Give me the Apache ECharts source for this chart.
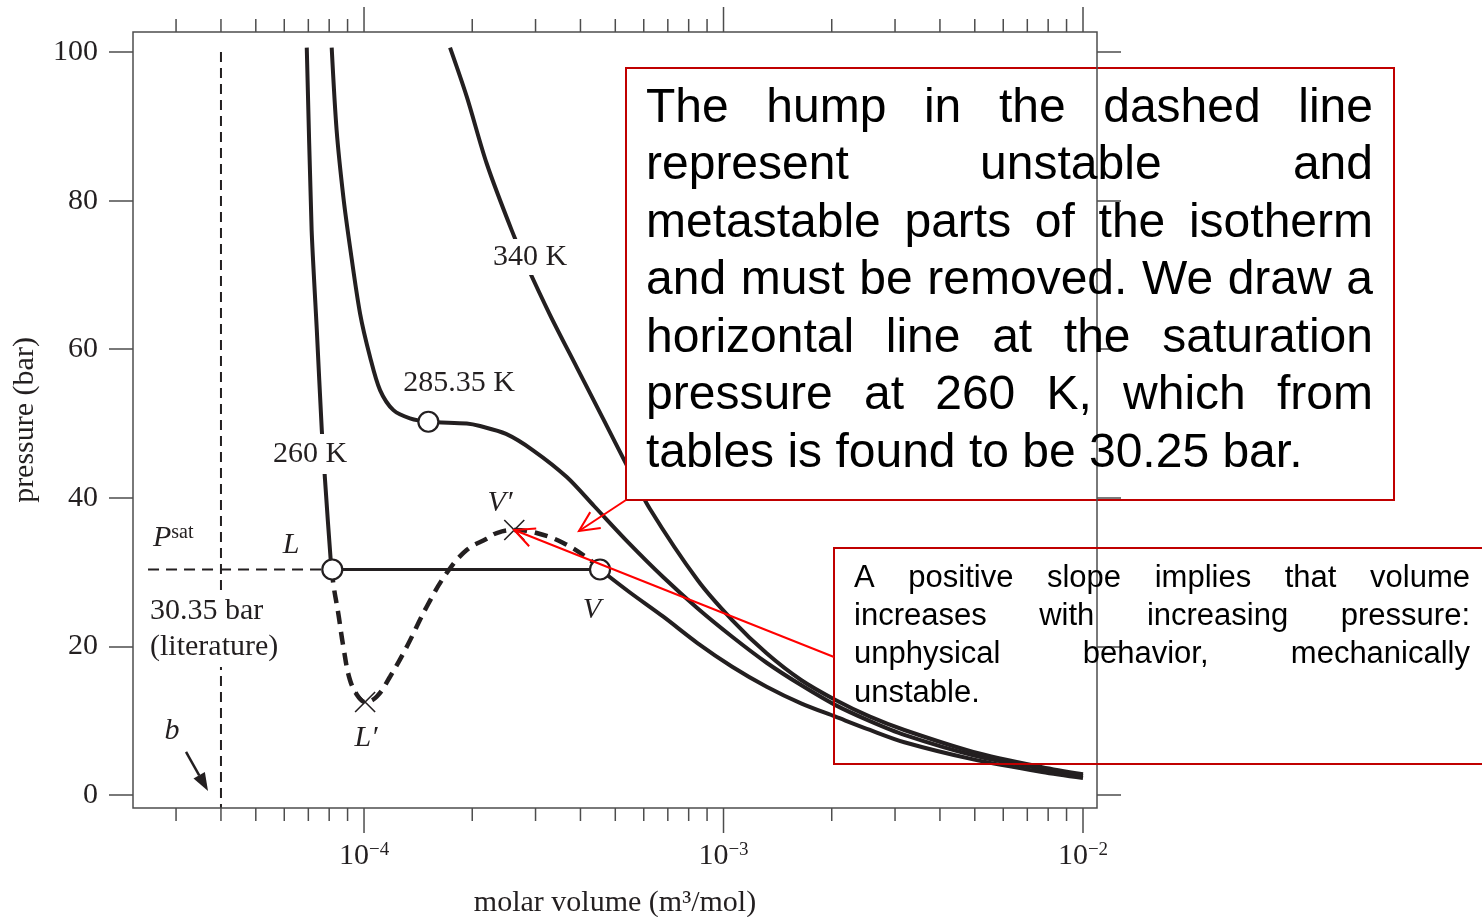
<!DOCTYPE html>
<html>
<head>
<meta charset="utf-8">
<script src="https://cdn.jsdelivr.net/npm/echarts@6/dist/echarts.min.js"></script>
<style>
  html, body { margin: 0; padding: 0; background: #fff; }
  #chart { width: 1482px; height: 917px; }
</style>
</head>
<body>
<div id="chart"></div>
<script>
// Isotherms as [molar volume (m^3/mol), pressure (bar)]
const iso260Liquid = [
  [6.93e-5, 100.6], [7.15e-5, 76.0], [7.39e-5, 62.6], [7.63e-5, 49.1],
  [7.79e-5, 42.4], [8.09e-5, 31.2], [8.16e-5, 30.35]
];
const iso260Unstable = [
  [8.16e-5, 30.35], [8.21e-5, 28.5], [8.48e-5, 24.45], [8.76e-5, 19.96],
  [9.14e-5, 15.48], [9.64e-5, 13.23], [1.007e-4, 12.52], [1.084e-4, 13.23],
  [1.181e-4, 15.92], [1.315e-4, 19.96], [1.494e-4, 25.34], [1.698e-4, 29.88],
  [1.930e-4, 32.97], [2.194e-4, 34.5], [2.339e-4, 35.26], [2.618e-4, 35.67],
  [3.022e-4, 35.26], [3.584e-4, 33.92], [4.252e-4, 31.63], [4.534e-4, 30.35]
];
const iso260Vapor = [
  [4.534e-4, 30.35], [5.456e-4, 27.36], [6.80e-4, 24.0], [8.48e-4, 20.42],
  [1.057e-3, 17.27], [1.318e-3, 14.58], [1.643e-3, 12.34], [2.049e-3, 10.54],
  [2.555e-3, 8.75], [3.184e-3, 7.1], [4.95e-3, 4.8], [7.694e-3, 3.1], [1.0e-2, 2.3]
];
const iso285 = [
  [8.13e-5, 100.6], [8.39e-5, 89.5], [8.76e-5, 80.5], [9.14e-5, 73.8],
  [9.75e-5, 64.8], [1.039e-4, 59.0], [1.108e-4, 54.5], [1.207e-4, 51.8],
  [1.342e-4, 50.7], [1.51e-4, 50.24], [1.931e-4, 50.0], [2.102e-4, 49.66],
  [2.483e-4, 48.6], [2.952e-4, 46.4], [3.664e-4, 42.8], [4.364e-4, 38.9],
  [5.456e-4, 33.9], [6.802e-4, 29.3], [8.478e-4, 25.1], [1.057e-3, 21.3],
  [1.318e-3, 17.8], [1.643e-3, 14.8], [2.049e-3, 12.1], [2.555e-3, 9.95],
  [3.184e-3, 8.1], [4.95e-3, 5.35], [7.694e-3, 3.5], [1.0e-2, 2.55]
];
const iso340 = [
  [1.735e-4, 100.6], [1.931e-4, 94.0], [2.194e-4, 85.0], [2.576e-4, 76.0],
  [2.835e-4, 71.3], [3.293e-4, 64.6], [3.904e-4, 57.6], [4.631e-4, 50.6],
  [5.380e-4, 44.4], [6.225e-4, 38.6], [8.478e-4, 28.9], [1.057e-3, 23.55],
  [1.318e-3, 19.07], [1.643e-3, 15.48], [2.049e-3, 12.79], [2.555e-3, 10.54],
  [3.184e-3, 8.75], [4.95e-3, 5.8], [7.694e-3, 3.75], [1.0e-2, 2.8]
];

// Saturation line, co-volume and marked states
const psatLiterature = 30.35;
const covolumeB = 4e-5;
const psatLineStart = 2.507e-5;
const pointL = [8.16e-5, 30.35];
const pointV = [4.534e-4, 30.35];
const criticalPoint = [1.51e-4, 50.24];
const spinodalL = [1.007e-4, 12.52];
const spinodalV = [2.618e-4, 35.67];

// Axis ticks
const xMajorTicks = [1e-4, 1e-3, 1e-2];
const xMajorExponents = ['\u22124', '\u22123', '\u22122'];
const xMinorTicks = [
  3e-5, 4e-5, 5e-5, 6e-5, 7e-5, 8e-5, 9e-5,
  2e-4, 3e-4, 4e-4, 5e-4, 6e-4, 7e-4, 8e-4, 9e-4,
  2e-3, 3e-3, 4e-3, 5e-3, 6e-3, 7e-3, 8e-3, 9e-3
];
const yTicks = [0, 20, 40, 60, 80, 100];

const xMin = 2.277e-5, xMax = 1.0938e-2;
const yMin = -1.75, yMax = 102.7;

const SERIF = '"Liberation Serif", "Times New Roman", serif';
const SANS = '"Liberation Sans", Arial, sans-serif';
const INK = '#231f20';
const AXIS = '#4d4d4d';
const BOX_RED = '#c00000';
const ARROW_RED = '#ff0000';

const tickData = xMajorTicks.map((v, i) => [v, 1, i]).concat(xMinorTicks.map(v => [v, 0, -1]));

function curve(name, data, width, extra) {
  return Object.assign({
    type: 'line', name, data, symbol: 'none', showSymbol: false,
    smooth: 0.3, silent: true, z: 2,
    lineStyle: { color: INK, width: width, cap: 'butt' }
  }, extra || {});
}

const chart = echarts.init(document.getElementById('chart'), null, { renderer: 'canvas' });

chart.setOption({
  animation: false,
  backgroundColor: '#ffffff',
  grid: { left: 133, top: 32, right: 385, bottom: 109, containLabel: false, outerBoundsMode: 'none' },
  xAxis: {
    type: 'log', logBase: 10, min: xMin, max: xMax,
    axisLine: { show: false }, axisTick: { show: false }, axisLabel: { show: false },
    splitLine: { show: false },
    name: 'molar volume (m\u00b3/mol)', nameLocation: 'middle', nameGap: 80,
    nameTextStyle: { fontFamily: SERIF, fontSize: 30, color: INK }
  },
  yAxis: [{
    type: 'value', min: yMin, max: yMax, position: 'left',
    axisLine: { show: false },
    axisTick: { show: true, customValues: yTicks, length: 24, lineStyle: { color: AXIS, width: 1.5 } },
    axisLabel: { customValues: yTicks, margin: 35, fontFamily: SERIF, fontSize: 30, color: INK },
    splitLine: { show: false },
    name: 'pressure (bar)', nameLocation: 'middle', nameGap: 93,
    nameTextStyle: { fontFamily: SERIF, fontSize: 30, color: INK }
  }, {
    type: 'value', min: yMin, max: yMax, position: 'right', z: 9,
    axisLine: { show: false },
    axisTick: { show: true, customValues: yTicks, length: 24, lineStyle: { color: AXIS, width: 1.5 } },
    axisLabel: { show: false },
    splitLine: { show: false }
  }],
  series: [
    curve('260 K liquid', iso260Liquid, 4, { smooth: 0.2 }),
    curve('260 K unstable', iso260Unstable, 4.5, {
      smooth: 0.4, lineStyle: { color: INK, width: 4.5, type: [13, 8] }
    }),
    curve('260 K vapour', iso260Vapor, 4),
    curve('285.35 K', iso285, 4),
    curve('340 K', iso340, 4),
    curve('tie line', [pointL, pointV], 3, { smooth: false }),
    curve('literature Psat', [[psatLineStart, psatLiterature], [pointL[0], psatLiterature]], 2, {
      smooth: false, lineStyle: { color: INK, width: 2, type: [11, 7] }
    }),
    curve('co-volume b', [[covolumeB, 100], [covolumeB, yMin]], 2, {
      smooth: false, lineStyle: { color: INK, width: 2, type: [10, 6] }
    }),
    {
      type: 'scatter', name: 'states', data: [pointL, pointV, criticalPoint],
      symbol: 'circle', symbolSize: 20, z: 4, silent: true,
      itemStyle: { color: '#ffffff', borderColor: INK, borderWidth: 2.2, opacity: 1 }
    },
    {
      type: 'scatter', name: 'spinodal', data: [spinodalL, spinodalV],
      symbol: 'path://M0,0L20,20M20,0L0,20', symbolSize: 20, z: 4, silent: true,
      itemStyle: { color: 'none', borderColor: INK, borderWidth: 1.6, opacity: 1 }
    },
    {
      type: 'custom', name: 'x ticks', data: tickData, clip: false, silent: true, z: 9,
      renderItem: function (params, api) {
        const cs = params.coordSys;
        const v = api.value(0);
        const major = api.value(1) === 1;
        const x = api.coord([v, 0])[0];
        const bottom = cs.y + cs.height, top = cs.y;
        const len = major ? 25 : 13;
        const st = { stroke: AXIS, lineWidth: 1.5 };
        const children = [
          { type: 'line', shape: { x1: x, y1: bottom, x2: x, y2: bottom + len }, style: st },
          { type: 'line', shape: { x1: x, y1: top, x2: x, y2: top - len }, style: st }
        ];
        if (major) {
          children.push({
            type: 'text', x: x, y: bottom + 33,
            style: {
              text: '{b|10}{e|' + xMajorExponents[api.value(2)] + '}',
              align: 'center', verticalAlign: 'top',
              rich: {
                b: { fontFamily: SERIF, fontSize: 30, lineHeight: 30, fill: INK },
                e: { fontFamily: SERIF, fontSize: 19, lineHeight: 19, fill: INK, verticalAlign: 'top' }
              }
            }
          });
        }
        return { type: 'group', children: children };
      }
    }
  ]
});

// ---- annotations placed through the axes' own coordinate mapping ----
const px = (v, p) => chart.convertToPixel({ gridIndex: 0 }, [v, p]);
const g = [];

// plot frame
const tl = px(xMin, yMax), br = px(xMax, yMin);
g.push({ type: 'rect', z: 8, silent: true,
  shape: { x: tl[0], y: tl[1], width: br[0] - tl[0], height: br[1] - tl[1] },
  style: { fill: 'none', stroke: AXIS, lineWidth: 1.5 } });

function label(v, p, text, opts) {
  const pt = px(v, p);
  g.push({ type: 'text', z: 3, silent: true, x: pt[0], y: pt[1],
    style: Object.assign({
      text: text, fill: INK, font: '30px ' + SERIF,
      align: 'center', verticalAlign: 'middle'
    }, opts || {}) });
}
const italic = 'italic 30px ' + SERIF;
label(2.895e-4, 72.4, '340 K', { backgroundColor: '#fff', padding: [3, 3] });
label(1.838e-4, 55.45, '285.35 K');
label(7.077e-5, 45.9, '260 K', { backgroundColor: '#fff', padding: [5, 3] });
label(6.265e-5, 33.65, 'L', { font: italic });
label(2.39e-4, 39.3, 'V\u2032', { font: italic });
label(4.306e-4, 24.9, 'V', { font: italic });
label(1.013e-4, 7.67, 'L\u2032', { font: italic });
label(2.923e-5, 8.61, 'b', { font: italic });
label(2.588e-5, 34.59, '{p|P}{s|sat}', {
  align: 'left',
  rich: {
    p: { fontFamily: SERIF, fontStyle: 'italic', fontSize: 30, lineHeight: 30, fill: INK },
    s: { fontFamily: SERIF, fontSize: 20, lineHeight: 20, fill: INK, verticalAlign: 'top' }
  }
});
label(2.507e-5, 22.34, '30.35 bar\n(literature)', {
  align: 'left', lineHeight: 36, backgroundColor: '#fff', padding: [2, 2]
});

// arrow pointing at the co-volume line
(function () {
  const a = px(3.198e-5, 5.79), b = px(3.682e-5, 0.54);
  const ang = Math.atan2(b[1] - a[1], b[0] - a[0]);
  const hl = 18, hw = 6.5;
  const bx = b[0] - hl * Math.cos(ang), by = b[1] - hl * Math.sin(ang);
  g.push({ type: 'line', z: 3, silent: true, shape: { x1: a[0], y1: a[1], x2: bx, y2: by },
    style: { stroke: INK, lineWidth: 2.5 } });
  g.push({ type: 'polygon', z: 3, silent: true,
    shape: { points: [b, [bx + hw * Math.sin(ang), by - hw * Math.cos(ang)], [bx - hw * Math.sin(ang), by + hw * Math.cos(ang)]] },
    style: { fill: INK } });
})();

// justified paragraph inside a callout
const measureCtx = document.createElement('canvas').getContext('2d');
function paragraph(lines, left, right, firstBaseline, step, size, z) {
  const font = size + 'px ' + SANS;
  measureCtx.font = font;
  const space = measureCtx.measureText(' ').width;
  lines.forEach((line, i) => {
    const words = line.split(' ');
    const widths = words.map(w => measureCtx.measureText(w).width);
    const total = widths.reduce((s, w) => s + w, 0);
    const last = i === lines.length - 1;
    const gap = (last || words.length < 2) ? space : (right - left - total) / (words.length - 1);
    let x = left;
    const y = firstBaseline + i * step - 0.3465 * size;
    words.forEach((w, j) => {
      g.push({ type: 'text', z: z, silent: true, x: x, y: y,
        style: { text: w, font: font, fill: '#000', align: 'left', verticalAlign: 'middle' } });
      x += widths[j] + gap;
    });
  });
}

function openArrow(from, tip, z) {
  const ang = Math.atan2(tip[1] - from[1], tip[0] - from[0]);
  const hl = 22, spread = 0.45;
  g.push({ type: 'line', z: z, silent: true,
    shape: { x1: from[0], y1: from[1], x2: tip[0], y2: tip[1] },
    style: { stroke: ARROW_RED, lineWidth: 2 } });
  g.push({ type: 'polyline', z: z, silent: true,
    shape: { points: [
      [tip[0] - hl * Math.cos(ang - spread), tip[1] - hl * Math.sin(ang - spread)],
      tip,
      [tip[0] - hl * Math.cos(ang + spread), tip[1] - hl * Math.sin(ang + spread)]
    ] },
    style: { stroke: ARROW_RED, lineWidth: 2, fill: 'none' } });
}

// upper callout (opaque)
g.push({ type: 'rect', z: 5, silent: true,
  shape: { x: 626, y: 68, width: 768, height: 432 },
  style: { fill: '#ffffff', stroke: BOX_RED, lineWidth: 2 } });
paragraph([
  'The hump in the dashed line',
  'represent unstable and',
  'metastable parts of the isotherm',
  'and must be removed. We draw a',
  'horizontal line at the saturation',
  'pressure at 260 K, which from',
  'tables is found to be 30.25 bar.'
], 646, 1373, 125, 57.5, 48, 10);
openArrow([626, 500], px(3.962e-4, 35.53), 10);

// lower callout (outline only)
g.push({ type: 'rect', z: 10, silent: true,
  shape: { x: 834, y: 548, width: 700, height: 216 },
  style: { fill: 'none', stroke: BOX_RED, lineWidth: 2 } });
paragraph([
  'A positive slope implies that volume',
  'increases with increasing pressure:',
  'unphysical behavior, mechanically',
  'unstable.'
], 854, 1470, 589, 38.3, 31, 10);
openArrow([834, 657], px(spinodalV[0], spinodalV[1]), 10);

chart.setOption({ graphic: { elements: g } });
</script>
</body>
</html>
